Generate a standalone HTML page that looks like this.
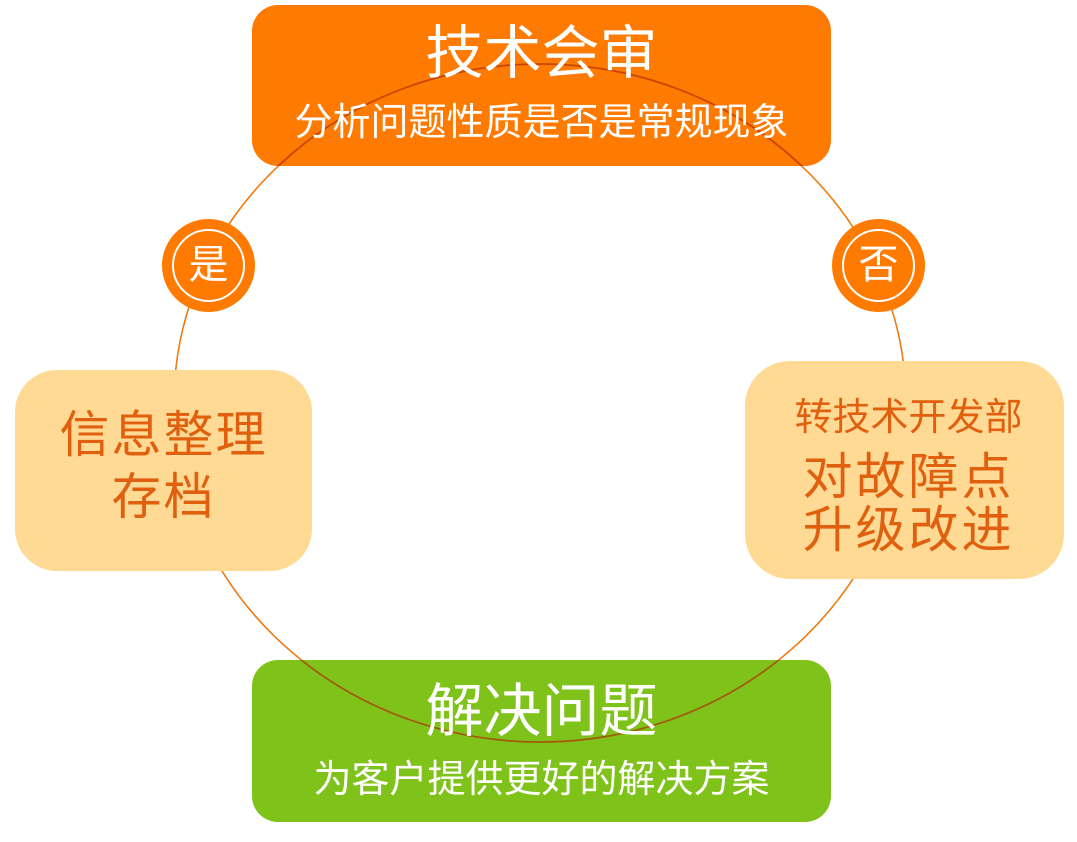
<!DOCTYPE html>
<html><head><meta charset="utf-8"><style>
html,body{margin:0;padding:0;background:#fff;}
body{width:1077px;height:842px;position:relative;overflow:hidden;font-family:"Liberation Sans","Noto Sans CJK SC",sans-serif;}
.b{position:absolute;box-sizing:border-box;}
.t{position:absolute;left:0;right:0;text-align:center;white-space:nowrap;line-height:1;}
</style></head><body>
<svg class="b" style="left:0;top:0" width="1077" height="842">
<ellipse cx="540" cy="403" rx="366" ry="339" fill="none" stroke="#f07a10" stroke-width="1.6"/>
</svg>
<div class="b" style="left:252px;top:5px;width:579px;height:161px;background:#ff7a00;border-radius:26px;"></div>
<div class="b" style="left:252px;top:660px;width:579px;height:162px;background:#7fc31a;border-radius:26px;"></div>
<svg class="b" style="left:0;top:0" width="1077" height="842">
<defs><clipPath id="c"><rect x="252" y="5" width="579" height="161" rx="26"/><rect x="252" y="660" width="579" height="162" rx="26"/></clipPath></defs>
<ellipse clip-path="url(#c)" cx="540" cy="403" rx="366" ry="339" fill="none" stroke="#b03000" stroke-opacity="0.7" stroke-width="1.8"/>
</svg>
<div class="t" style="left:252px;width:579px;top:25px;font-size:58px;color:#fff;">技术会审</div>
<div class="t" style="left:252px;width:579px;top:104px;font-size:38px;color:#fff;">分析问题性质是否是常规现象</div>
<div class="t" style="left:252px;width:579px;top:683px;font-size:58px;color:#fff;">解决问题</div>
<div class="t" style="left:252px;width:579px;top:761px;font-size:38px;color:#fff;">为客户提供更好的解决方案</div>
<div class="b" style="left:15px;top:370px;width:297px;height:201px;background:#ffda94;border-radius:42px;"></div>
<div class="t" style="left:15px;width:297px;top:410px;font-size:50px;color:#e0600f;letter-spacing:2px;">信息整理</div>
<div class="t" style="left:15px;width:297px;top:472px;font-size:50px;color:#e0600f;letter-spacing:2px;">存档</div>
<div class="b" style="left:745px;top:361px;width:319px;height:218px;background:#ffda94;border-radius:45px;"></div>
<div class="t" style="left:749px;width:319px;top:399px;font-size:38px;color:#e0600f;">转技术开发部</div>
<div class="t" style="left:749px;width:319px;top:452px;font-size:50px;color:#e0600f;letter-spacing:3px;">对故障点</div>
<div class="t" style="left:749px;width:319px;top:505px;font-size:50px;color:#e0600f;letter-spacing:3px;">升级改进</div>
<div class="b" style="left:162px;top:219px;width:93px;height:93px;border-radius:50%;background:#ff7a00;"></div>
<div class="b" style="left:172px;top:229px;width:73px;height:73px;border-radius:50%;border:2.5px solid #fff;"></div>
<div class="t" style="left:162px;width:93px;top:245px;font-size:40px;color:#fff;">是</div>
<div class="b" style="left:832px;top:219px;width:93px;height:93px;border-radius:50%;background:#ff7a00;"></div>
<div class="b" style="left:842px;top:229px;width:73px;height:73px;border-radius:50%;border:2.5px solid #fff;"></div>
<div class="t" style="left:832px;width:93px;top:245px;font-size:40px;color:#fff;">否</div>
</body></html>
